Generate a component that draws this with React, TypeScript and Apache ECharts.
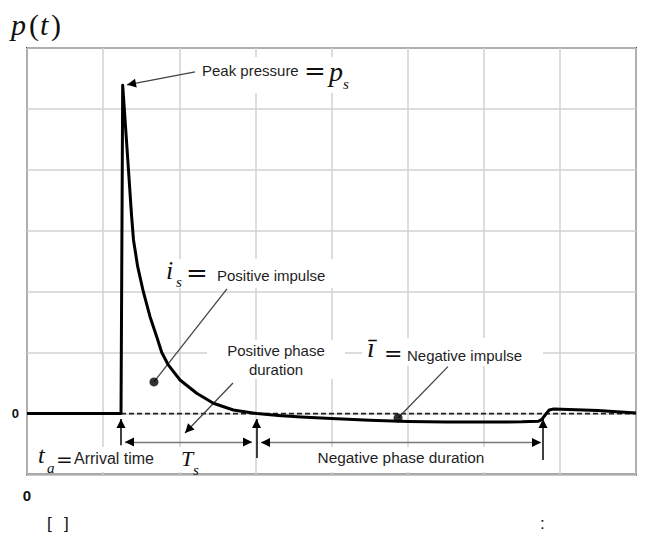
import React, { useEffect, useRef } from "react";
import * as echarts from "echarts";

// ---- Data ----
const timeValues = [0, 1.235, 1.257, 1.333, 1.373, 1.399, 1.454, 1.528, 1.616, 1.704, 1.769, 1.856, 2.01, 2.229, 2.448, 2.71, 3.021, 3.3, 3.6, 4.0, 4.5, 5.0, 5.5, 6.0, 6.5, 6.72, 6.76, 6.81, 6.86, 6.92, 7.5, 8.0];
const pressureValues = [0, 0, 5.39, 4.0, 3.258, 2.849, 2.411, 2.0, 1.59, 1.262, 1.006, 0.798, 0.551, 0.333, 0.169, 0.059, 0, -0.03, -0.055, -0.08, -0.11, -0.13, -0.14, -0.14, -0.135, -0.125, -0.1, -0.02, 0.06, 0.075, 0.05, 0.01];
const zeroLine = [[1.235, 0], [8, 0]];
const impulseDots = [[1.668, 0.519], [4.874, -0.072]];
const xTickLabels = ["0"];
const yTickLabels = ["0"];

// callout segments [from, to] in data units
const peakArrow = [[2.207, 5.607], [1.314, 5.395]];
const posImpulseLeader = [[2.627, 2.045], [1.668, 0.519]];
const posPhaseArrow = [[2.706, 0.502], [2.076, -0.318]];
const negImpulseLeader = [[5.53, 0.77], [4.874, -0.072]];
const arrivalArrow = [[1.235, -0.519], [1.235, -0.089]];
const zeroCrossArrow = [[3.015, -0.729], [3.015, -0.089]];
const endNegArrow = [[6.778, -0.761], [6.778, -0.089]];
const posDurationSpan = [[1.287, -0.466], [2.956, -0.466]];
const negDurationSpan = [[3.074, -0.474], [6.752, -0.474]];

const SANS = '"Liberation Sans", Arial, Helvetica, sans-serif';
const SERIF = '"Liberation Serif", "Times New Roman", serif';
const EQ = '"DejaVu Serif", serif';

const PX_X = 76.125;
const PX_Y = 60.93;

function headSeg(from: number[], to: number[]) {
  const dxp = (to[0] - from[0]) * PX_X;
  const dyp = (to[1] - from[1]) * PX_Y;
  const len = Math.hypot(dxp, dyp) || 1;
  const ux = dxp / len;
  const uy = dyp / len;
  const back = 4.5;
  const end = [to[0] - (ux * back) / PX_X, to[1] - (uy * back) / PX_Y];
  const start = [end[0] - (ux * 2) / PX_X, end[1] - (uy * 2) / PX_Y];
  return { coords: [start, end] };
}

function txt(x: number, y: number, text: string, size: number, o: any = {}) {
  const style: any = {
    text,
    fontSize: size,
    fontFamily: o.family || (o.serif ? SERIF : SANS),
    fontStyle: o.italic ? "italic" : "normal",
    fontWeight: "normal",
    fill: o.fill || "#1e1e1e",
    textAlign: o.align || "left",
    align: o.align || "left",
    textVerticalAlign: "middle",
    verticalAlign: "middle",
  };
  return { type: "text", x, y, z: 100, silent: true, style };
}

function box(x: number, y: number, w: number, h: number) {
  return { type: "rect", z: 1, silent: true, shape: { x, y, width: w, height: h }, style: { fill: "#ffffff" } };
}

export default function App() {
  const ref = useRef<HTMLDivElement>(null);

  useEffect(() => {
    if (!ref.current) return;
    const chart = echarts.init(ref.current, null, { renderer: "svg" });
    const curve = timeValues.map((t, i) => [t, pressureValues[i]]);

    const shaftData = [
      { coords: peakArrow, lineStyle: { color: "#444", width: 1.3 } },
      { coords: posImpulseLeader, lineStyle: { color: "#444", width: 1.3 } },
      { coords: posPhaseArrow, lineStyle: { color: "#444", width: 1.3 } },
      { coords: negImpulseLeader, lineStyle: { color: "#444", width: 1.3 } },
      { coords: arrivalArrow, lineStyle: { color: "#111", width: 1.6 } },
      { coords: zeroCrossArrow, lineStyle: { color: "#111", width: 1.6 } },
      { coords: endNegArrow, lineStyle: { color: "#111", width: 1.6 } },
      { coords: posDurationSpan, lineStyle: { color: "#777", width: 1.3 } },
      { coords: negDurationSpan, lineStyle: { color: "#777", width: 1.3 } },
    ];
    const heads = [
      headSeg(peakArrow[0], peakArrow[1]),
      headSeg(posPhaseArrow[0], posPhaseArrow[1]),
      headSeg(arrivalArrow[0], arrivalArrow[1]),
      headSeg(zeroCrossArrow[0], zeroCrossArrow[1]),
      headSeg(endNegArrow[0], endNegArrow[1]),
      headSeg(posDurationSpan[0], posDurationSpan[1]),
      headSeg(posDurationSpan[1], posDurationSpan[0]),
      headSeg(negDurationSpan[0], negDurationSpan[1]),
      headSeg(negDurationSpan[1], negDurationSpan[0]),
    ];

    const graphics = [
      box(198, 57, 154, 36),
      box(160, 259, 182, 29),
      box(207, 340, 138, 39),
      box(362, 338, 181, 28),
      box(29, 447, 221, 25),
      box(262, 447, 278, 25),
      // p(t)
      txt(11, 24.5, "p", 30, { serif: true, italic: true, fill: "#111" }),
      txt(29, 24.5, "(", 30, { serif: true, fill: "#111" }),
      txt(40, 24.5, "t", 30, { serif: true, italic: true, fill: "#111" }),
      txt(51, 24.5, ")", 30, { serif: true, fill: "#111" }),
      // peak pressure
      txt(202, 70.8, "Peak pressure", 15),
      txt(304, 71, "=", 26, { family: EQ, fill: "#111" }),
      txt(329, 71.5, "p", 28, { serif: true, italic: true, fill: "#111" }),
      txt(343, 83.5, "s", 15, { serif: true, italic: true, fill: "#111" }),
      // positive impulse
      txt(166, 270.2, "i", 26, { serif: true, italic: true, fill: "#111" }),
      txt(176, 282, "s", 15, { serif: true, italic: true, fill: "#111" }),
      txt(186, 272.5, "=", 26, { family: EQ, fill: "#111" }),
      txt(217, 275.5, "Positive impulse", 15),
      // positive phase duration
      txt(276, 350.8, "Positive phase", 15, { align: "center" }),
      txt(276, 369.8, "duration", 15, { align: "center" }),
      // negative impulse
      txt(367, 347.5, "\u012B", 28, { serif: true, italic: true, fill: "#111" }),
      txt(384, 353.5, "=", 22, { family: EQ, fill: "#111" }),
      txt(407, 355.8, "Negative impulse", 15),
      // bottom
      txt(38, 455, "t", 24, { serif: true, italic: true, fill: "#111" }),
      txt(47, 468, "a", 15, { serif: true, italic: true, fill: "#111" }),
      txt(56, 460, "=", 20, { family: EQ, fill: "#111" }),
      txt(74, 458.3, "Arrival time", 16),
      txt(181, 458.6, "T", 22, { serif: true, italic: true, fill: "#111" }),
      txt(193, 470, "s", 15, { serif: true, italic: true, fill: "#111" }),
      txt(401, 457, "Negative phase duration", 15.4, { align: "center" }),
      txt(47, 523, "[", 17, { fill: "#111" }),
      txt(64, 523, "]", 17, { fill: "#111" }),
      txt(540, 523, ":", 17, { fill: "#111" }),
    ];

    chart.setOption({
      animation: false,
      backgroundColor: "#ffffff",
      grid: {
        left: 27,
        right: 13,
        top: 48,
        bottom: 60.5,
        show: true,
        borderColor: "#4a4a4a",
        borderWidth: 2,
        backgroundColor: "transparent",
      },
      xAxis: {
        type: "value",
        min: 0,
        max: 8,
        interval: 1,
        axisLine: { show: false },
        axisTick: { show: false },
        splitLine: { show: true, lineStyle: { color: "#d2d2d2", width: 1.5 } },
        axisLabel: {
          formatter: (v: number) => (v === 0 ? xTickLabels[0] : ""),
          fontWeight: "bold",
          fontSize: 15,
          color: "#111",
          fontFamily: SANS,
          margin: 13,
        },
      },
      yAxis: {
        type: "value",
        min: -1,
        max: 6,
        interval: 1,
        axisLine: { show: false },
        axisTick: { show: false },
        splitLine: { show: true, lineStyle: { color: "#d2d2d2", width: 1.5 } },
        axisLabel: {
          formatter: (v: number) => (Math.abs(v) < 1e-9 ? yTickLabels[0] : ""),
          fontWeight: "bold",
          fontSize: 13,
          color: "#111",
          fontFamily: SANS,
          margin: 8,
        },
      },
      series: [
        {
          type: "line",
          data: zeroLine,
          symbol: "none",
          silent: true,
          z: 3,
          lineStyle: { color: "#222", width: 1.8, type: [5, 3] },
        },
        {
          type: "line",
          data: curve,
          symbol: "none",
          silent: true,
          z: 5,
          lineStyle: { color: "#000", width: 3, join: "round" },
        },
        {
          type: "lines",
          coordinateSystem: "cartesian2d",
          silent: true,
          z: 4,
          symbol: "none",
          lineStyle: { opacity: 1 },
          data: shaftData,
        },
        {
          type: "lines",
          coordinateSystem: "cartesian2d",
          silent: true,
          z: 7,
          symbol: ["none", "triangle"],
          symbolSize: 9,
          itemStyle: { color: "#000" },
          lineStyle: { color: "#000", width: 1, opacity: 1 },
          data: heads,
        },
        {
          type: "scatter",
          data: impulseDots,
          symbol: "circle",
          symbolSize: 9,
          silent: true,
          z: 6,
          itemStyle: { color: "#000" },
        },
      ],
      graphic: { elements: graphics },
    });
    return () => chart.dispose();
  }, []);

  return (
    <div
      ref={ref}
      style={{ position: "fixed", left: 0, top: 0, width: 649, height: 535, background: "#fff" }}
    />
  );
}
